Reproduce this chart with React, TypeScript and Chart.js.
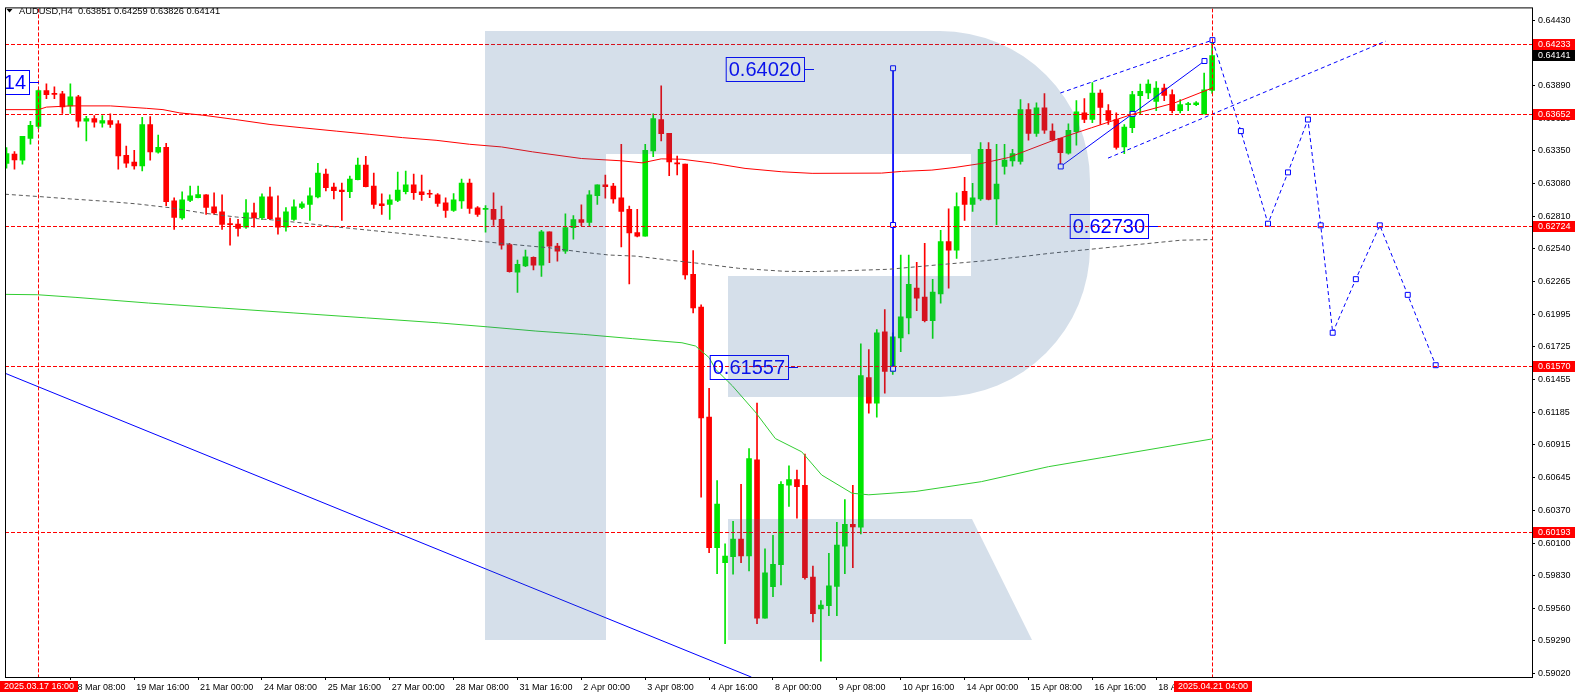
import React, { useEffect, useRef } from 'react';
import { Chart, registerables } from 'chart.js';

Chart.register(...registerables);

const FONT = '"Liberation Sans", Arial, sans-serif';

// ---- H4 candles, bar index 0 = 2025.03.17 00:00 ----
const OPEN = [
  0.63246, 0.63323, 0.63273, 0.63454, 0.63553, 0.63849, 0.63824, 0.63824, 0.63723, 0.63799,
  0.63596, 0.63618, 0.63580, 0.63602, 0.63575, 0.63314, 0.63257, 0.63226, 0.63569, 0.63339,
  0.63380, 0.62936, 0.62794, 0.62939, 0.62963, 0.62985, 0.62886, 0.62845, 0.62741, 0.62744,
  0.62717, 0.62837, 0.62796, 0.62969, 0.62796, 0.62717, 0.62782, 0.62881, 0.62906, 0.62969,
  0.63158, 0.63051, 0.63026, 0.63013, 0.63111, 0.63232, 0.63059, 0.62911, 0.62906, 0.62939,
  0.63013, 0.63068, 0.63010, 0.62994, 0.62985, 0.62920, 0.62857, 0.62936, 0.63084, 0.62878,
  0.62865, 0.62865, 0.62782, 0.62574, 0.62344, 0.62396, 0.62467, 0.62404, 0.62679, 0.62561,
  0.62520, 0.62714, 0.62780, 0.62758, 0.62980, 0.63068, 0.63059, 0.62961, 0.62865, 0.62673,
  0.62643, 0.63350, 0.63610, 0.63495, 0.63248, 0.63240, 0.62328, 0.62056, 0.61144, 0.60061,
  0.59938, 0.59987, 0.60132, 0.59993, 0.60790, 0.59477, 0.59738, 0.59921, 0.60579, 0.60626,
  0.60579, 0.59819, 0.59555, 0.59581, 0.59740, 0.60075, 0.60256, 0.60231, 0.61472, 0.61259,
  0.61851, 0.61522, 0.61801, 0.61966, 0.62213, 0.62138, 0.61943, 0.62165, 0.62599, 0.62528,
  0.63016, 0.62906, 0.62952, 0.63364, 0.62952, 0.63221, 0.63267, 0.63262, 0.63693, 0.63495,
  0.63707, 0.63514, 0.63454, 0.63331, 0.63509, 0.63665, 0.63610, 0.63830, 0.63684, 0.63610,
  0.63383, 0.63542, 0.63808, 0.63830, 0.63761, 0.63871, 0.63816, 0.63684, 0.63734, 0.63734,
  0.63657, 0.63851,
];
const HIGH = [
  0.63378, 0.63345, 0.63471, 0.63596, 0.63857, 0.63906, 0.63882, 0.63843, 0.63906, 0.63810,
  0.63637, 0.63643, 0.63643, 0.63657, 0.63602, 0.63391, 0.63355, 0.63629, 0.63635, 0.63481,
  0.63413, 0.62961, 0.63010, 0.63059, 0.63059, 0.62988, 0.63002, 0.62985, 0.62794, 0.62782,
  0.62947, 0.62917, 0.62994, 0.63051, 0.62977, 0.62881, 0.62944, 0.62928, 0.63043, 0.63248,
  0.63199, 0.63084, 0.63084, 0.63142, 0.63290, 0.63306, 0.63166, 0.62994, 0.62985, 0.63175,
  0.63183, 0.63158, 0.63150, 0.63026, 0.62996, 0.62961, 0.62996, 0.63117, 0.63117, 0.62889,
  0.62897, 0.63002, 0.62893, 0.62583, 0.62446, 0.62528, 0.62473, 0.62692, 0.62679, 0.62583,
  0.62829, 0.62815, 0.62903, 0.63021, 0.63068, 0.63150, 0.63082, 0.63405, 0.62893, 0.62865,
  0.63405, 0.63657, 0.63890, 0.63495, 0.63308, 0.63240, 0.62523, 0.62075, 0.61382, 0.60617,
  0.60094, 0.60280, 0.60587, 0.60883, 0.61261, 0.60053, 0.60165, 0.60609, 0.60740, 0.60705,
  0.60837, 0.59910, 0.59624, 0.60015, 0.60272, 0.60461, 0.60579, 0.61752, 0.61703, 0.61869,
  0.62034, 0.61842, 0.62487, 0.62487, 0.62426, 0.62583, 0.62286, 0.62692, 0.62870, 0.63002,
  0.63131, 0.63082, 0.63419, 0.63419, 0.63405, 0.63405, 0.63364, 0.63775, 0.63742, 0.63748,
  0.63826, 0.63575, 0.63454, 0.63575, 0.63767, 0.63783, 0.63917, 0.63857, 0.63734, 0.63665,
  0.63569, 0.63843, 0.63904, 0.63939, 0.63925, 0.63904, 0.63857, 0.63775, 0.63753, 0.63758,
  0.63994, 0.64259,
];
const LOW = [
  0.63207, 0.63199, 0.63240, 0.63405, 0.63536, 0.63783, 0.63783, 0.63660, 0.63660, 0.63547,
  0.63432, 0.63547, 0.63547, 0.63545, 0.63199, 0.63213, 0.63199, 0.63185, 0.63273, 0.63331,
  0.62897, 0.62700, 0.62782, 0.62930, 0.62961, 0.62823, 0.62823, 0.62700, 0.62569, 0.62643,
  0.62708, 0.62717, 0.62780, 0.62780, 0.62659, 0.62684, 0.62774, 0.62871, 0.62774, 0.62961,
  0.63018, 0.62952, 0.62774, 0.62963, 0.63109, 0.63051, 0.62873, 0.62823, 0.62782, 0.62930,
  0.62994, 0.62947, 0.62939, 0.62963, 0.62890, 0.62799, 0.62848, 0.62873, 0.62832, 0.62807,
  0.62676, 0.62733, 0.62536, 0.62344, 0.62177, 0.62391, 0.62363, 0.62309, 0.62424, 0.62437,
  0.62500, 0.62618, 0.62730, 0.62730, 0.62906, 0.62958, 0.62917, 0.62555, 0.62248, 0.62638,
  0.62643, 0.63303, 0.63432, 0.63144, 0.63150, 0.62286, 0.62007, 0.60481, 0.60020, 0.59847,
  0.59266, 0.59842, 0.59938, 0.59869, 0.59431, 0.59477, 0.59656, 0.59754, 0.60403, 0.60307,
  0.59800, 0.59446, 0.59121, 0.59499, 0.59499, 0.59847, 0.59897, 0.60176, 0.61176, 0.61144,
  0.61343, 0.61497, 0.61686, 0.61834, 0.62026, 0.61933, 0.61796, 0.62089, 0.62212, 0.62459,
  0.62774, 0.62848, 0.62939, 0.62944, 0.62739, 0.63158, 0.63224, 0.63240, 0.63438, 0.63471,
  0.63495, 0.63432, 0.63240, 0.63323, 0.63397, 0.63583, 0.63583, 0.63569, 0.63569, 0.63364,
  0.63328, 0.63501, 0.63651, 0.63783, 0.63684, 0.63767, 0.63665, 0.63665, 0.63684, 0.63725,
  0.63657, 0.63826,
];
const CLOSE = [
  0.63328, 0.63276, 0.63471, 0.63561, 0.63849, 0.63816, 0.63818, 0.63715, 0.63799, 0.63596,
  0.63618, 0.63588, 0.63602, 0.63569, 0.63309, 0.63248, 0.63226, 0.63569, 0.63341, 0.63380,
  0.62930, 0.62799, 0.62944, 0.62977, 0.62988, 0.62881, 0.62837, 0.62741, 0.62739, 0.62708,
  0.62837, 0.62796, 0.62969, 0.62788, 0.62717, 0.62845, 0.62886, 0.62911, 0.62977, 0.63166,
  0.63045, 0.63021, 0.63013, 0.63117, 0.63232, 0.63054, 0.62906, 0.62897, 0.62944, 0.63026,
  0.63068, 0.63004, 0.62988, 0.62991, 0.62914, 0.62857, 0.62944, 0.63084, 0.62873, 0.62823,
  0.62870, 0.62782, 0.62569, 0.62350, 0.62410, 0.62473, 0.62404, 0.62679, 0.62561, 0.62520,
  0.62714, 0.62780, 0.62758, 0.62985, 0.63068, 0.63054, 0.62952, 0.62848, 0.62671, 0.62643,
  0.63355, 0.63618, 0.63493, 0.63259, 0.63243, 0.62322, 0.62048, 0.61138, 0.60061, 0.60423,
  0.59993, 0.60132, 0.59993, 0.60801, 0.59477, 0.59853, 0.59924, 0.60587, 0.60626, 0.60568,
  0.59814, 0.59514, 0.59586, 0.59746, 0.60083, 0.60256, 0.60234, 0.61487, 0.61259, 0.61842,
  0.61522, 0.61810, 0.61974, 0.62245, 0.62130, 0.61943, 0.62179, 0.62599, 0.62528, 0.62889,
  0.62906, 0.62961, 0.63364, 0.62947, 0.63076, 0.63273, 0.63328, 0.63693, 0.63495, 0.63707,
  0.63522, 0.63440, 0.63336, 0.63520, 0.63674, 0.63610, 0.63830, 0.63711, 0.63602, 0.63378,
  0.63547, 0.63816, 0.63843, 0.63904, 0.63871, 0.63810, 0.63684, 0.63734, 0.63736, 0.63748,
  0.63857, 0.64141,
];

// ---- indicator lines (bar index, price) ----
const RED_MA_X = [-0.2, 4, 5, 8, 13, 17.5, 19.6, 21.7, 24.6, 28.7, 33, 37, 41.3, 45.5, 49.6, 53.8, 58, 62, 65.9, 72, 77, 79.6, 82, 84.6, 88.4, 92.5, 97.1, 100.9, 109.6, 112.1, 115.9, 118.8, 122.1, 125.5, 130.9, 135.9, 140.9, 146.3, 151];
const RED_MA_Y = [0.63692, 0.63692, 0.63713, 0.63723, 0.63723, 0.63703, 0.63692, 0.63665, 0.63646, 0.63610, 0.63569, 0.63542, 0.63514, 0.63487, 0.63460, 0.63438, 0.63405, 0.63383, 0.63342, 0.63287, 0.63268, 0.63251, 0.63284, 0.63281, 0.63249, 0.63205, 0.63177, 0.63164, 0.63166, 0.63180, 0.63191, 0.63213, 0.63246, 0.63295, 0.63432, 0.63542, 0.63651, 0.63748, 0.63871];
const GRAY_MA_X = [-0.2, 4.2, 8, 12.1, 16.3, 20.5, 24.6, 28.8, 33, 37.1, 41.3, 45.5, 49.6, 53.8, 58, 62.1, 64.3, 68, 72.1, 75.5, 78.8, 83, 86.7, 91.7, 97.5, 101.3, 105.5, 110.5, 116.7, 122.1, 127.1, 130.5, 147.1, 151];
const GRAY_MA_Y = [0.62991, 0.62971, 0.62952, 0.62934, 0.62911, 0.62879, 0.62835, 0.62802, 0.62780, 0.62753, 0.62720, 0.62692, 0.62665, 0.62638, 0.62610, 0.62583, 0.62569, 0.62547, 0.62511, 0.62487, 0.62478, 0.62445, 0.62418, 0.62377, 0.62352, 0.62350, 0.62358, 0.62369, 0.62406, 0.62437, 0.62473, 0.62500, 0.62610, 0.62615];
const GREEN_MA_X = [-0.2, 3.9, 8.7, 17.8, 26.9, 36, 45.1, 54.1, 60.2, 66.3, 72.3, 78.4, 84.6, 86.3, 88, 88.8, 90.9, 93.8, 96.3, 99.6, 102.1, 105.9, 108, 113.8, 122.1, 130.5, 137.1, 151];
const GREEN_MA_Y = [0.62161, 0.62158, 0.62136, 0.62089, 0.62048, 0.62007, 0.61966, 0.61925, 0.61892, 0.61857, 0.61829, 0.61794, 0.61760, 0.61733, 0.61637, 0.61541, 0.61404, 0.61185, 0.60966, 0.60856, 0.60664, 0.60513, 0.60500, 0.60527, 0.60609, 0.60733, 0.60807, 0.60963];

// ---- drawn objects ----
const TREND_X = [-0.2, 93.3];
const TREND_Y = [0.61508, 0.58989];
const CHAN_UP_X = [131.99, 151.04];
const CHAN_UP_Y = [0.63830, 0.64268];
const CHAN_LO_X = [137.96, 172.75];
const CHAN_LO_Y = [0.63290, 0.64260];
const WAVE_X = [132.04, 141.04, 150.04];
const WAVE_Y = [0.63221, 0.63657, 0.64095];
const RANGE_X = [111.04, 111.04, 111.04];
const RANGE_Y = [0.64035, 0.62736, 0.61545];
const PROJ_X = [151.04, 154.6, 158.0, 160.5, 163.0, 164.6, 166.1, 169.0, 172.0, 175.5, 179.0];
const PROJ_Y = [0.64268, 0.63514, 0.62747, 0.63172, 0.63610, 0.62733, 0.61843, 0.62287, 0.62733, 0.62157, 0.61574];

const LEVELS = [0.64233, 0.63652, 0.62724, 0.61570, 0.60193];
const CURRENT_PRICE = 0.64141;
const CROSS_IDX = [4, 151];
const CROSS_LABELS = ['2025.03.17 16:00', '2025.04.21 04:00'];
const TAG_TEXT = ['0.64020', '0.61557', '0.62730', '14'];
const TAG_X = [101.1, 99.1, 144.2, 4.04];
const TAG_Y = [0.64029, 0.61555, 0.62731, 0.63920];
const TITLE = 'AUDUSD,H4  0.63851 0.64259 0.63826 0.64141';

// ---- axes ----
const X_MIN = -0.1875;
const X_MAX = 191.0625;
const Y_MIN = 0.5899;
const Y_MAX = 0.64531;
const X_TICK_IDX = [8, 16, 24, 32, 40, 48, 56, 64, 72, 80, 88, 96, 104, 112, 120, 128, 136, 144];
const X_TICK_LABELS = ['18 Mar 08:00', '19 Mar 16:00', '21 Mar 00:00', '24 Mar 08:00', '25 Mar 16:00', '27 Mar 00:00', '28 Mar 08:00', '31 Mar 16:00', '2 Apr 00:00', '3 Apr 08:00', '4 Apr 16:00', '8 Apr 00:00', '9 Apr 08:00', '10 Apr 16:00', '14 Apr 00:00', '15 Apr 08:00', '16 Apr 16:00', '18 Apr 00:00'];
const Y_TICKS = [0.64430, 0.64160, 0.63890, 0.63620, 0.63350, 0.63080, 0.62810, 0.62540, 0.62265, 0.61995, 0.61725, 0.61455, 0.61185, 0.60915, 0.60645, 0.60370, 0.60100, 0.59830, 0.59560, 0.59290, 0.59020];

const UP = '#00E600';
const DOWN = '#FF0000';
const BLUE = '#0000FF';

const pts = (xs: number[], ys: number[]) => xs.map((x, k) => ({ x, y: ys[k] }));

const mt4Plugin = {
  id: 'mt4',
  afterDatasetsDraw(chart: any) {
    const { ctx, chartArea: a } = chart;
    const xs = chart.scales.x;
    const ys = chart.scales.y;
    ctx.save();
    ctx.beginPath();
    ctx.rect(a.left, a.top, a.right - a.left, a.bottom - a.top);
    ctx.clip();
    // horizontal levels
    ctx.strokeStyle = '#FF0000';
    ctx.lineWidth = 1;
    ctx.setLineDash([4, 2]);
    LEVELS.forEach((p) => {
      const y = Math.round(ys.getPixelForValue(p)) + 0.5;
      ctx.beginPath();
      ctx.moveTo(a.left, y);
      ctx.lineTo(a.right, y);
      ctx.stroke();
    });
    CROSS_IDX.forEach((i) => {
      const x = Math.floor(xs.getPixelForValue(i)) + 0.5;
      ctx.beginPath();
      ctx.moveTo(x, a.top);
      ctx.lineTo(x, a.bottom);
      ctx.stroke();
    });
    ctx.setLineDash([]);
    // price tags
    ctx.font = '20px ' + FONT;
    ctx.textBaseline = 'middle';
    ctx.strokeStyle = BLUE;
    ctx.fillStyle = BLUE;
    TAG_TEXT.forEach((t, k) => {
      const x1 = Math.round(xs.getPixelForValue(TAG_X[k]));
      const y1 = Math.round(ys.getPixelForValue(TAG_Y[k]));
      const w = ctx.measureText(t).width + 6;
      const right = x1 - 10;
      ctx.beginPath();
      ctx.moveTo(right, y1 + 0.5);
      ctx.lineTo(x1, y1 + 0.5);
      ctx.stroke();
      ctx.strokeRect(right - w + 0.5, y1 - 11.5, w, 24);
      ctx.fillText(t, right - w + 3, y1 + 1.5);
    });
    // watermark (drawn over the chart, semi transparent)
    ctx.fillStyle = 'rgba(45,95,150,0.2)';
    ctx.beginPath();
    ctx.rect(485, 31, 121, 609);
    ctx.moveTo(606, 31);
    ctx.lineTo(940, 31);
    ctx.arcTo(1090, 31, 1090, 181, 150);
    ctx.lineTo(1090, 247);
    ctx.arcTo(1090, 397, 940, 397, 150);
    ctx.lineTo(728, 397);
    ctx.lineTo(728, 276);
    ctx.lineTo(971, 276);
    ctx.lineTo(971, 154);
    ctx.lineTo(606, 154);
    ctx.closePath();
    ctx.moveTo(728, 519);
    ctx.lineTo(972, 519);
    ctx.lineTo(1032, 640);
    ctx.lineTo(728, 640);
    ctx.closePath();
    ctx.fill();
    ctx.restore();
    // frame
    ctx.save();
    ctx.strokeStyle = '#000';
    ctx.lineWidth = 1;
    ctx.strokeRect(a.left + 0.5, a.top - 0.5, a.right - a.left, a.bottom - a.top + 1);
    ctx.restore();
  },
  afterDraw(chart: any) {
    const { ctx, chartArea: a } = chart;
    const xs = chart.scales.x;
    const ys = chart.scales.y;
    ctx.save();
    ctx.font = '9px ' + FONT;
    ctx.textBaseline = 'middle';
    const tags = LEVELS.map((p) => ({ p, bg: '#FF0000' })).concat([{ p: CURRENT_PRICE, bg: '#000000' }]);
    tags.forEach(({ p, bg }) => {
      const y = Math.round(ys.getPixelForValue(p));
      ctx.fillStyle = bg;
      ctx.fillRect(a.right + 1, y - 5, 42, 11);
      ctx.fillStyle = '#FFFFFF';
      ctx.textAlign = 'left';
      ctx.fillText(p.toFixed(5), a.right + 6, y + 0.5);
    });
    CROSS_IDX.forEach((i, k) => {
      const t = CROSS_LABELS[k];
      const cx = Math.floor(xs.getPixelForValue(i)) + 0.5;
      const w = Math.round(ctx.measureText(t).width + 8);
      let left = Math.round(cx - w / 2);
      if (left < 0) left = 0;
      ctx.fillStyle = '#FF0000';
      ctx.fillRect(left, a.bottom + 4, w, 11);
      ctx.fillStyle = '#FFFFFF';
      ctx.textAlign = 'left';
      ctx.fillText(t, left + 4, a.bottom + 10);
    });
    // title
    ctx.fillStyle = '#000';
    ctx.beginPath();
    ctx.moveTo(6.5, 9);
    ctx.lineTo(12.5, 9);
    ctx.lineTo(9.5, 12.5);
    ctx.closePath();
    ctx.fill();
    ctx.font = '9.3px ' + FONT;
    ctx.textBaseline = 'alphabetic';
    ctx.textAlign = 'left';
    ctx.fillText(TITLE, 19, 14);
    ctx.restore();
  },
};

function buildConfig(): any {
  const idx = OPEN.map((_, i) => i);
  const colors = idx.map((i) => (CLOSE[i] >= OPEN[i] ? UP : DOWN));
  const line = (data: any[], color: string, extra: any = {}) => ({
    type: 'line',
    data,
    borderColor: color,
    borderWidth: 1,
    pointRadius: 0,
    fill: false,
    tension: 0,
    order: 0,
    ...extra,
  });
  const marked = {
    pointRadius: 3.5,
    pointStyle: 'rect',
    pointBackgroundColor: '#FFFFFF',
    pointBorderColor: BLUE,
    pointBorderWidth: 1,
  };
  return {
    type: 'bar',
    data: {
      datasets: [
        line(pts(RED_MA_X, RED_MA_Y), '#FF0000'),
        line(pts(GRAY_MA_X, GRAY_MA_Y), '#5A5A5A', { borderDash: [4, 3] }),
        line(pts(GREEN_MA_X, GREEN_MA_Y), '#32CD32'),
        line(pts(TREND_X, TREND_Y), BLUE),
        line(pts(CHAN_UP_X, CHAN_UP_Y), BLUE, { borderDash: [4, 3] }),
        line(pts(CHAN_LO_X, CHAN_LO_Y), BLUE, { borderDash: [4, 3] }),
        line(pts(WAVE_X, WAVE_Y), BLUE, marked),
        line(pts(RANGE_X, RANGE_Y), BLUE, marked),
        line(pts(PROJ_X, PROJ_Y), BLUE, { ...marked, borderDash: [4, 3] }),
        {
          type: 'bar',
          data: idx.map((i) => ({ x: i, y: [OPEN[i], CLOSE[i]] })),
          backgroundColor: colors,
          barThickness: 5,
          minBarLength: 1,
          grouped: false,
          borderWidth: 0,
          order: 1,
        },
        {
          type: 'bar',
          data: idx.map((i) => ({ x: i, y: [LOW[i], HIGH[i]] })),
          backgroundColor: colors,
          barThickness: 1,
          grouped: false,
          borderWidth: 0,
          order: 2,
        },
      ],
    },
    options: {
      animation: false,
      responsive: false,
      maintainAspectRatio: false,
      devicePixelRatio: 1,
      events: [],
      layout: { padding: { left: 2, top: 3, right: 0, bottom: 0 } },
      plugins: { legend: { display: false }, tooltip: { enabled: false }, title: { display: false } },
      scales: {
        x: {
          type: 'linear',
          position: 'bottom',
          min: X_MIN,
          max: X_MAX,
          offset: false,
          bounds: 'data',
          afterFit: (s: any) => {
            s.height = 21;
          },
          afterBuildTicks: (s: any) => {
            s.ticks = X_TICK_IDX.map((v) => ({ value: v }));
          },
          ticks: {
            autoSkip: false,
            maxRotation: 0,
            minRotation: 0,
            align: 'start',
            labelOffset: 2,
            padding: 2,
            color: '#000',
            font: { family: FONT, size: 9 },
            callback: (_v: any, i: number) => X_TICK_LABELS[i],
          },
          grid: { drawOnChartArea: false, drawTicks: true, tickLength: 3, color: '#000', offset: false },
          border: { display: false },
        },
        y: {
          type: 'linear',
          position: 'right',
          min: Y_MIN,
          max: Y_MAX,
          bounds: 'data',
          beginAtZero: false,
          afterFit: (s: any) => {
            s.width = 46;
          },
          afterBuildTicks: (s: any) => {
            s.ticks = Y_TICKS.map((v) => ({ value: v }));
          },
          ticks: {
            autoSkip: false,
            padding: 3,
            color: '#000',
            font: { family: FONT, size: 9 },
            callback: (v: any) => Number(v).toFixed(5),
          },
          grid: { drawOnChartArea: false, drawTicks: true, tickLength: 3, color: '#000' },
          border: { display: false },
        },
      },
    },
    plugins: [mt4Plugin],
  };
}

export default function App() {
  const ref = useRef<HTMLCanvasElement>(null);
  useEffect(() => {
    const canvas = ref.current;
    if (!canvas) return;
    const chart = new Chart(canvas, buildConfig());
    return () => chart.destroy();
  }, []);
  return (
    <div style={{ position: 'fixed', left: 0, top: 0, width: 1578, height: 698, background: '#FFFFFF' }}>
      <canvas ref={ref} width={1578} height={698} style={{ display: 'block', width: 1578, height: 698 }} />
    </div>
  );
}
